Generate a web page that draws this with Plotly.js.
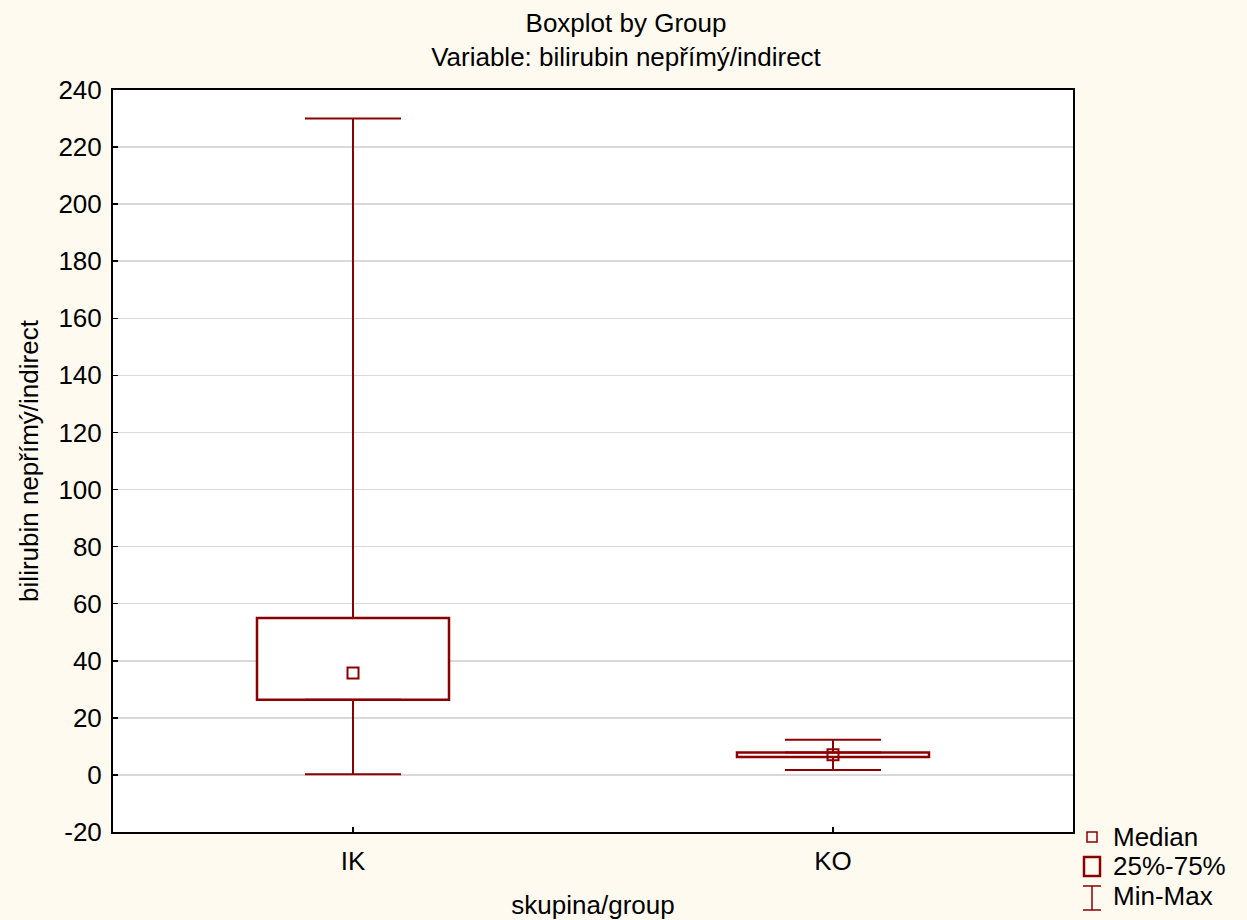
<!DOCTYPE html>
<html>
<head>
<meta charset="utf-8">
<script src="https://cdn.plot.ly/plotly-3.0.1.min.js"></script>
<style>html,body{margin:0;padding:0;background:#fffaf0;}#chart{width:1247px;height:920px;}</style>
</head>
<body>
<div id="chart"></div>
<script>
const groups = ["IK", "KO"];
const minVals = [0.2, 1.7];
const q1Vals = [26.3, 6.3];
const medianVals = [35.7, 7.1];
const q3Vals = [55.0, 7.9];
const maxVals = [230, 12.3];
const yTicks = [-20, 0, 20, 40, 60, 80, 100, 120, 140, 160, 180, 200, 220, 240];

const red = "#8b0000";
const font = "Liberation Sans, Arial, sans-serif";
const fs = 26;

const boxTrace = {
  type: "bar", x: groups,
  y: q3Vals.map((v, i) => v - q1Vals[i]),
  base: q1Vals, width: 0.4,
  marker: {color: "white", line: {color: red, width: 2.5}},
  showlegend: false, hoverinfo: "skip"
};
const upperWhisker = {
  type: "scatter", mode: "markers", x: groups, y: q3Vals,
  marker: {size: 1, color: "rgba(0,0,0,0)"},
  error_y: {type: "data", symmetric: false,
    array: maxVals.map((v, i) => v - q3Vals[i]),
    arrayminus: q3Vals.map(() => 0),
    color: red, thickness: 2, width: 48},
  showlegend: false, hoverinfo: "skip"
};
const lowerWhisker = {
  type: "scatter", mode: "markers", x: groups, y: q1Vals,
  marker: {size: 1, color: "rgba(0,0,0,0)"},
  error_y: {type: "data", symmetric: false,
    array: q1Vals.map(() => 0),
    arrayminus: q1Vals.map((v, i) => v - minVals[i]),
    color: red, thickness: 2, width: 48},
  showlegend: false, hoverinfo: "skip"
};
const medianTrace = {
  type: "scatter", mode: "markers", x: groups, y: medianVals,
  marker: {symbol: "square-open", size: 11, color: red, line: {color: red, width: 2}},
  showlegend: false, hoverinfo: "skip"
};

// legend (paper coordinates)
const L = 113, T = 90, W = 960, H = 742;
const px = x => (x - L) / W;
const py = y => (T + H - y) / H;

const shapes = [
  {type: "rect", xref: "paper", yref: "paper", x0: px(1087), x1: px(1097), y0: py(842), y1: py(832), line: {color: red, width: 1.5}},
  {type: "rect", xref: "paper", yref: "paper", x0: px(1084), x1: px(1100), y0: py(876), y1: py(857), line: {color: red, width: 2.5}},
  {type: "line", xref: "paper", yref: "paper", x0: px(1092), x1: px(1092), y0: py(910), y1: py(886), line: {color: red, width: 1.5}},
  {type: "line", xref: "paper", yref: "paper", x0: px(1083), x1: px(1101), y0: py(886), y1: py(886), line: {color: red, width: 1.5}},
  {type: "line", xref: "paper", yref: "paper", x0: px(1083), x1: px(1101), y0: py(910), y1: py(910), line: {color: red, width: 1.5}}
];
const legendLabels = ["Median", "25%-75%", "Min-Max"];
const legendY = [837, 866, 896];
const annotations = legendLabels.map((t, i) => ({
  text: t, xref: "paper", yref: "paper", x: px(1111), y: py(legendY[i]),
  xanchor: "left", yanchor: "middle", showarrow: false,
  font: {family: font, size: fs, color: "black"}
}));

const layout = {
  width: 1247, height: 920,
  paper_bgcolor: "#fffaf0", plot_bgcolor: "white",
  margin: {l: 113, r: 174, t: 90, b: 88},
  font: {family: font, size: fs, color: "black"},
  title: {text: "Boxplot by Group<br>Variable: bilirubin nepřímý/indirect",
    xref: "container", x: 0.502, xanchor: "center", y: 0.965, yanchor: "top",
    font: {family: font, size: fs, color: "black"}},
  xaxis: {type: "category", range: [-0.5, 1.5], showgrid: false,
    showline: true, linecolor: "black", linewidth: 2, mirror: true,
    ticks: "inside", ticklen: 5, tickcolor: "black", tickwidth: 2,
    ticklabelstandoff: 5,
    tickfont: {family: font, size: fs}, zeroline: false,
    title: {text: "skupina/group", font: {family: font, size: fs}, standoff: 22}},
  yaxis: {range: [-20, 240], tickvals: yTicks, ticktext: yTicks.map(String),
    showgrid: true, gridcolor: "#d9d9d9", gridwidth: 1.5,
    showline: true, linecolor: "black", linewidth: 2, mirror: true,
    ticks: "inside", ticklen: 5, tickcolor: "black", tickwidth: 1.5,
    ticklabelstandoff: 4,
    tickfont: {family: font, size: fs}, zeroline: false,
    title: {text: "bilirubin nepřímý/indirect", font: {family: font, size: fs}, standoff: 12}},
  shapes: shapes, annotations: annotations,
  showlegend: false
};

Plotly.newPlot("chart", [boxTrace, upperWhisker, lowerWhisker, medianTrace], layout, {displayModeBar: false, staticPlot: true});
</script>
</body>
</html>
